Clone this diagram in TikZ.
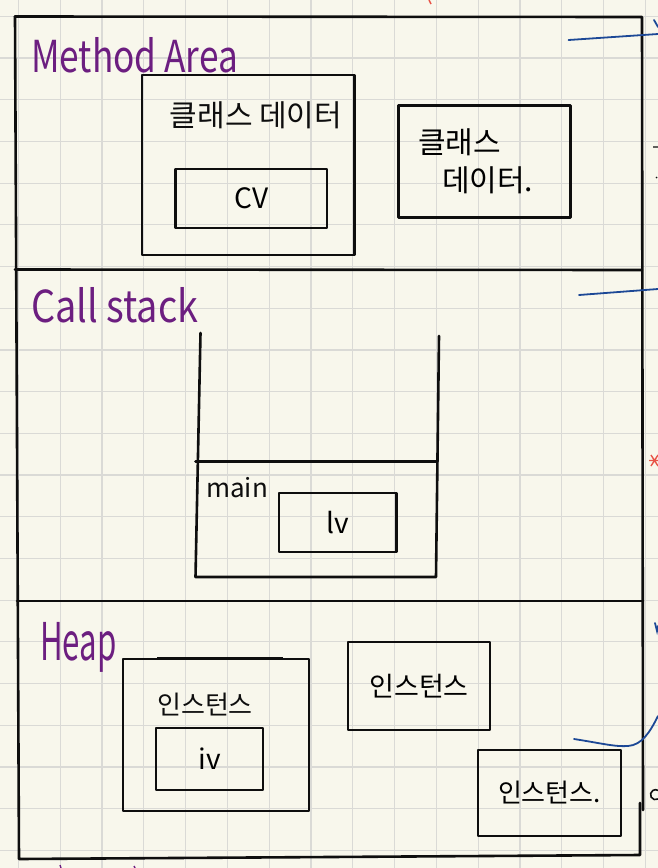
\documentclass[tikz,border=0pt]{standalone}
\usepackage{fontspec}
\newfontfamily\hand{Noto Sans CJK KR}
\usetikzlibrary{positioning}
\definecolor{paper}{RGB}{248,247,236}
\definecolor{gridgray}{RGB}{218,218,214}
\definecolor{ink}{RGB}{14,14,14}
\definecolor{plum}{RGB}{108,30,128}
\definecolor{penblue}{RGB}{28,72,150}
\definecolor{penred}{RGB}{232,84,72}
\newcommand{\sheet}{(0,0) rectangle (658,868)}

\begin{document}
\begin{tikzpicture}[x=1pt,y=-1pt,
    rule/.style={draw=ink,line width=2.6pt,line cap=round,line join=round},
    box/.style={rule,inner sep=0pt,font=\hand\fontsize{28}{30}\selectfont},
    word/.style={ink,inner sep=0pt,font=\hand\fontsize{26}{30}\selectfont},
    title/.style={plum,inner sep=0pt,anchor=base west,font=\hand\fontsize{44}{48}\selectfont},
    pen/.style={penblue,line width=1.8pt,line cap=round}]
        \useasboundingbox \sheet;
        \fill[paper] \sheet;
        \foreach \i in {0,...,15}
            \draw[gridgray,line width=1.2pt] ({18.3+41.8*\i},0) -- ++(0,868);
        \foreach \j in {0,...,20}
            \draw[gridgray,line width=1.2pt] (0,{16.3+41.7*\j}) -- ++(658,0);
        \draw[rule] (15,16.5) -- (642,17) -- (643,810);
        \draw[rule] (640,803) -- (640,855) -- (19,859) -- (15,16.5);
        \draw[rule] (15,269.5) -- (642,270);
        \draw[rule] (17,601) -- (643,601);
        \node[title] (method) at (31,72) {\scalebox{0.8}[1]{Method Area}};
        \node[title] (callstack) at (31,322) {\scalebox{0.86}[1]{Call stack}};
        \node[title,font=\hand\fontsize{52}{54}\selectfont] (heap) at (40,660) {\scalebox{0.6}[1]{Heap}};
        \node[box,minimum width=212.6pt,minimum height=180pt] (classdata) at (248.3,165) {};
        \node[word,font=\hand\fontsize{30}{32}\selectfont] (classdatatxt) at (256,115) {클래스 데이터};
        \node[box,minimum width=151.6pt,minimum height=59pt] (cv) at (251.2,198.5) {CV};
        \node[box,minimum width=172pt,minimum height=112pt,align=left,
              font=\hand\fontsize{30}{38}\selectfont] (classdata2) at (484.7,161.5) {\hspace*{-0.6em}클래스\\\hspace*{0.2em}데이터.};
        \coordinate (stacktl) at (200.5,333);
        \coordinate (stacktr) at (439,336);
        \draw[rule] (stacktl) -- (195.5,577) -- (436,577) -- (stacktr);
        \draw[rule] (195.5,461.5) -- (437.5,461.5);
        \node[word,anchor=base west] (mainlbl) at (206,497) {main};
        \node[box,minimum width=117.6pt,minimum height=59pt] (lv) at (337.8,522.5) {lv};
        \node[box,minimum width=186pt,minimum height=152pt] (inst) at (216,735) {};
        \draw[ink,line width=3.4pt] (157,658.5) -- (283,658.5);
        \node[word] (insttxt) at (205,705) {인스턴스};
        \node[box,minimum width=107pt,minimum height=62pt] (iv) at (209.5,759) {iv};
        \node[box,minimum width=142pt,minimum height=88pt,font=\hand\fontsize{27}{30}\selectfont] (inst2) at (419,686) {인스턴스};
        \node[box,minimum width=143pt,minimum height=86pt,font=\hand\fontsize{26}{30}\selectfont] (inst3) at (549.5,793) {인스턴스.};
        \coordinate (penA) at (568.6,40);  \coordinate (edgeA) at (658,34);
        \coordinate (penB) at (579,295);   \coordinate (edgeB) at (658,289);
        \coordinate (penC) at (574,739);   \coordinate (edgeC) at (658,716);
        \draw[pen] (penA) -- (edgeA);
        \draw[pen] (penB) -- (edgeB);
        \draw[pen] (penC) .. controls (600,743) and (615,747) .. (628,746) .. controls (642,745) and (650,732) .. (edgeC);
        \draw[pen] (654,20) -- (658,27);
        \draw[pen] (655,623) -- (657,631) -- (658,626);
        \draw[penred,line width=1.4pt] (651,455) -- (658,466) (651,466) -- (658,455) (649,460.5) -- (658,460.5);
        \draw[penred,line width=1.4pt] (429,0) -- (431,4);
        \draw[ink,line width=1.4pt] (653,147) -- (658,147) (656,177) -- (657,178);
        \draw[ink,line width=1.6pt] (658,799) arc (60:300:5);
        \draw[plum,line width=1.4pt] (60,865) -- (61,868) (134,866) -- (135,868);
\end{tikzpicture}
\end{document}
